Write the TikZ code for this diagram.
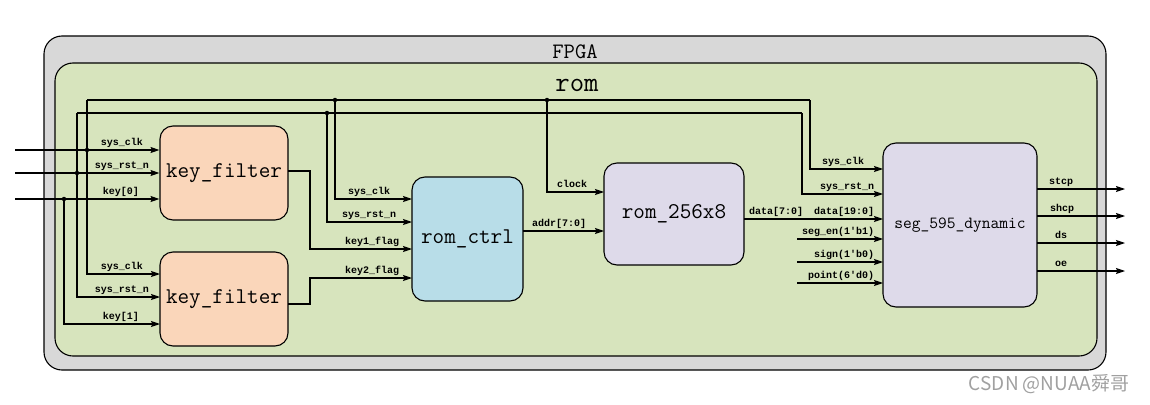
\documentclass[tikz,border=0pt]{standalone}
\usepackage{fontspec}
\setmonofont{Latin Modern Mono}
\newfontfamily\lblfont{Liberation Mono}
\newfontfamily\cjkfont{Noto Sans CJK SC}
\usetikzlibrary{arrows.meta}
\definecolor{fpgagray}{HTML}{D8D8D8}
\definecolor{romgreen}{HTML}{D7E4BD}
\definecolor{peach}{HTML}{FAD6BA}
\definecolor{ltblue}{HTML}{B8DDE8}
\definecolor{lavender}{HTML}{DEDAEA}
\definecolor{wmgray}{HTML}{A0A0A0}
\begin{document}
\begin{tikzpicture}[x=1pt,y=-1pt,
  frame/.style={draw, line width=1.1pt, rounded corners=18pt, inner sep=0pt},
  blk/.style={draw, line width=1.1pt, rounded corners=13pt, inner sep=0pt},
  big/.style={font=\ttfamily\fontsize{22.5}{24}\selectfont},
  lbl/.style={font=\lblfont\bfseries\fontsize{10}{10}\selectfont, inner sep=0pt, anchor=base},
  wire/.style={line width=1.1pt},
  arr/.style={wire, -{Stealth[length=9pt,width=6pt,inset=1.5pt]}},
  jdot/.style={circle, fill, inner sep=0pt, minimum size=4.5pt}
]
\useasboundingbox (0,0) rectangle (1150,404);

% frames
\node[frame, fill=fpgagray, minimum width=1062pt, minimum height=334pt] (fpga) at (575,203) {};
\node[font=\ttfamily\fontsize{22}{24}\selectfont] (fpgat) at (575,52) {FPGA};
\node[frame, fill=romgreen, minimum width=1042pt, minimum height=293pt] (rom) at (576,209.5) {};
\node[font=\ttfamily\fontsize{28}{30}\selectfont] (romt) at (577,85) {rom};

% blocks
\node[blk, fill=peach, big, minimum width=128pt, minimum height=94pt] (kf1) at (224,173) {key\_filter};
\node[blk, fill=peach, big, minimum width=128pt, minimum height=94pt] (kf2) at (224,299) {key\_filter};
\node[blk, fill=ltblue, big, minimum width=111pt, minimum height=124pt] (rc) at (467.5,239) {rom\_ctrl};
\node[blk, fill=lavender, big, minimum width=140pt, minimum height=102pt] (rm) at (674,214) {rom\_256x8};
\node[blk, fill=lavender, font=\ttfamily\fontsize{17}{19}\selectfont, minimum width=154pt, minimum height=164pt] (sg) at (960,225) {seg\_595\_dynamic};

% coordinates
\coordinate (in1) at (15,150);
\coordinate (in2) at (15,173);
\coordinate (in3) at (15,199);
\coordinate (jclk) at (87,150);
\coordinate (jrst) at (77,173);
\coordinate (jkey) at (64,199);
\coordinate (clkL) at (87,100);
\coordinate (rstL) at (77,113);
\coordinate (clkR) at (810,100);
\coordinate (rstR) at (802,113);
\coordinate (clkA) at (335,100);
\coordinate (clkB) at (547,100);
\coordinate (rstA) at (327,113);
\coordinate (kf2clk) at (160,274);
\coordinate (kf2rst) at (160,297);
\coordinate (kf2key) at (160,324);
\coordinate (kf1o) at (288,171);
\coordinate (kf2o) at (288,304);
\coordinate (rcClk) at (412,199);
\coordinate (rcRst) at (412,222);
\coordinate (rcK1) at (412,249);
\coordinate (rcK2) at (412,278);
\coordinate (rcA) at (523,231);
\coordinate (rmA) at (604,231);
\coordinate (rmClk) at (604,192);
\coordinate (rmD) at (744,219);
\coordinate (sgClk) at (883,169);
\coordinate (sgRst) at (883,194);
\coordinate (sgD) at (883,219);
\coordinate (sgEn) at (883,239);
\coordinate (sgSg) at (883,262);
\coordinate (sgPt) at (883,283);
\coordinate (enS) at (797,239);
\coordinate (sgS) at (797,262);
\coordinate (ptS) at (797,283);
\coordinate (o1) at (1037,189);
\coordinate (o2) at (1037,216);
\coordinate (o3) at (1037,243);
\coordinate (o4) at (1037,271);
\coordinate (e1) at (1125,189);
\coordinate (e2) at (1125,216);
\coordinate (e3) at (1125,243);
\coordinate (e4) at (1125,271);

% wires
\draw[wire] (clkL) -- (clkR);
\draw[wire] (rstL) -- (rstR);
\draw[arr] (in1) -- (kf1.west |- in1);
\draw[arr] (in2) -- (kf1.west |- in2);
\draw[arr] (in3) -- (kf1.west |- in3);
\draw[arr] (clkL) |- (kf2clk);
\draw[arr] (rstL) |- (kf2rst);
\draw[arr] (jkey) |- (kf2key);
\draw[arr] (kf1o) -- ++(22,0) |- (rcK1);
\draw[arr] (kf2o) -- ++(22,0) |- (rcK2);
\draw[arr] (clkA) |- (rcClk);
\draw[arr] (rstA) |- (rcRst);
\draw[arr] (clkB) |- (rmClk);
\draw[arr] (rcA) -- (rmA);
\draw[arr] (rmD) -- (sgD);
\draw[arr] (clkR) |- (sgClk);
\draw[arr] (rstR) |- (sgRst);
\draw[arr] (enS) -- (sgEn);
\draw[arr] (sgS) -- (sgSg);
\draw[arr] (ptS) -- (sgPt);
\draw[arr] (o1) -- (e1);
\draw[arr] (o2) -- (e2);
\draw[arr] (o3) -- (e3);
\draw[arr] (o4) -- (e4);

% junction dots
\foreach \p in {jclk,jrst,jkey,clkA,clkB,rstA} \node[jdot] at (\p) {};

% labels
\node[lbl] (l1) at (122,145.5) {sys\_clk};
\node[lbl] (l2) at (122,168.5) {sys\_rst\_n};
\node[lbl] (l3) at (121,194.5) {key[0]};
\node[lbl] (l4) at (122,269.5) {sys\_clk};
\node[lbl] (l5) at (122,292.5) {sys\_rst\_n};
\node[lbl] (l6) at (121,319.5) {key[1]};
\node[lbl] (l7) at (369,194.5) {sys\_clk};
\node[lbl] (l8) at (369,217.5) {sys\_rst\_n};
\node[lbl] (l9) at (372,244.5) {key1\_flag};
\node[lbl] (l10) at (372,273.5) {key2\_flag};
\node[lbl] (l11) at (572,187.5) {clock};
\node[lbl] (l12) at (559,226.5) {addr[7:0]};
\node[lbl] (l13) at (776,214.5) {data[7:0]};
\node[lbl] (l14) at (843,164.5) {sys\_clk};
\node[lbl] (l15) at (847,189.5) {sys\_rst\_n};
\node[lbl] (l16) at (844,214.5) {data[19:0]};
\node[lbl] (l17) at (838,234.5) {seg\_en(1'b1)};
\node[lbl] (l18) at (844,257.5) {sign(1'b0)};
\node[lbl] (l19) at (841,278.5) {point(6'd0)};
\node[lbl] (l20) at (1061,184.5) {stcp};
\node[lbl] (l21) at (1062,211.5) {shcp};
\node[lbl] (l22) at (1061,238.5) {ds};
\node[lbl] (l23) at (1061,266.5) {oe};

% watermark
\node[font=\cjkfont\fontsize{19}{21}\selectfont, text=wmgray] (wm) at (1049,384) {CSDN @NUAA舜哥};
\end{tikzpicture}
\end{document}
